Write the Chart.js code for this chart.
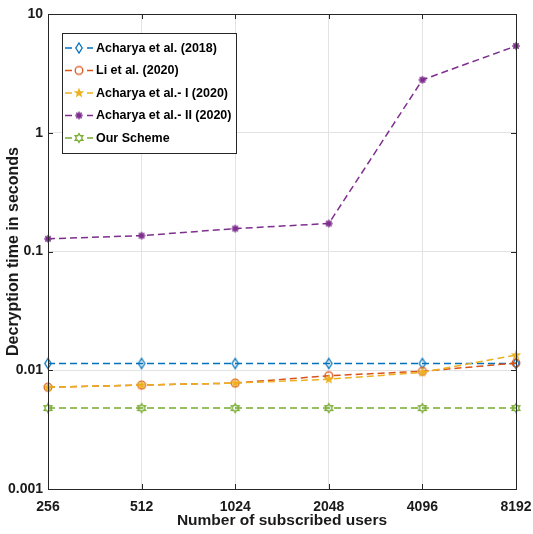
<!DOCTYPE html>
<html>
<head>
<meta charset="utf-8">
<script src="https://cdn.jsdelivr.net/npm/chart.js@4.4.1/dist/chart.umd.min.js"></script>
<style>
html,body{margin:0;padding:0;background:#fff;}
#wrap{width:533px;height:534px;position:relative;}
</style>
</head>
<body>
<div id="wrap"><canvas id="c" width="533" height="534"></canvas></div>
<script>
const categories = ['256','512','1024','2048','4096','8192'];
const acharya2018 = [0.0114, 0.0114, 0.0114, 0.0114, 0.0114, 0.0114];
const li2020 = [0.0072, 0.0075, 0.0078, 0.0090, 0.0098, 0.0115];
const acharyaI2020 = [0.0072, 0.0075, 0.0078, 0.0084, 0.0096, 0.0134];
const acharyaII2020 = [0.128, 0.136, 0.156, 0.172, 2.79, 5.38];
const ourScheme = [0.0048, 0.0048, 0.0048, 0.0048, 0.0048, 0.0048];
const seriesNames = ['Acharya et al. (2018)', 'Li et al. (2020)', 'Acharya et al.- I (2020)', 'Acharya et al.- II (2020)', 'Our Scheme'];
const yTicks = [0.001, 0.01, 0.1, 1, 10];

const colors = ['#0072BD', '#D95319', '#EDB120', '#7E2F8E', '#77AC30'];
const FONT = '"Liberation Sans", Arial, Helvetica, sans-serif';

function makeMarker(kind, color) {
  const s = 14, c = document.createElement('canvas');
  c.width = s; c.height = s;
  const g = c.getContext('2d');
  const m = s / 2;
  g.strokeStyle = color; g.fillStyle = color; g.lineWidth = 1.3;
  g.beginPath();
  if (kind === 'diamond') {
    g.moveTo(m, m - 5); g.lineTo(m + 3.2, m); g.lineTo(m, m + 5); g.lineTo(m - 3.2, m); g.closePath();
    g.stroke();
  } else if (kind === 'circle') {
    g.arc(m, m, 3.8, 0, Math.PI * 2); g.stroke();
  } else if (kind === 'pentagram') {
    for (let i = 0; i < 10; i++) {
      const r = i % 2 === 0 ? 5.5 : 2.3;
      const a = -Math.PI / 2 + i * Math.PI / 5;
      const x = m + r * Math.cos(a), y = m + r * Math.sin(a);
      if (i === 0) g.moveTo(x, y); else g.lineTo(x, y);
    }
    g.closePath(); g.fill();
  } else if (kind === 'asterisk') {
    g.lineWidth = 1.6;
    for (let i = 0; i < 4; i++) {
      const a = i * Math.PI / 4;
      g.moveTo(m - 3.8 * Math.cos(a), m - 3.8 * Math.sin(a));
      g.lineTo(m + 3.8 * Math.cos(a), m + 3.8 * Math.sin(a));
    }
    g.stroke();
  } else if (kind === 'hexagram') {
    for (let i = 0; i < 12; i++) {
      const r = i % 2 === 0 ? 4.5 : 2.6;
      const a = -Math.PI / 2 + i * Math.PI / 6;
      const x = m + r * Math.cos(a), y = m + r * Math.sin(a);
      if (i === 0) g.moveTo(x, y); else g.lineTo(x, y);
    }
    g.closePath(); g.stroke();
  }
  return c;
}
const markerKinds = ['diamond', 'circle', 'pentagram', 'asterisk', 'hexagram'];
const markers = markerKinds.map((k, i) => makeMarker(k, colors[i]));
const allData = [acharya2018, li2020, acharyaI2020, acharyaII2020, ourScheme];

const datasets = allData.map((d, i) => ({
  label: seriesNames[i],
  data: d,
  borderColor: colors[i],
  backgroundColor: colors[i],
  borderWidth: 1.5,
  borderDash: [7, 4],
  pointStyle: markers[i],
  pointRadius: 5,
  tension: 0,
  fill: false,
  order: 5 - i
}));

const boxPlugin = {
  id: 'boxPlugin',
  afterDraw(chart) {
    const ctx = chart.ctx, a = chart.chartArea;
    ctx.save();
    ctx.strokeStyle = '#262626'; ctx.lineWidth = 1;
    ctx.strokeRect(Math.round(a.left) + 0.5, Math.round(a.top) + 0.5, Math.round(a.right - a.left), Math.round(a.bottom - a.top));
    const xs = chart.scales.x, ys = chart.scales.y;
    ctx.beginPath();
    categories.forEach((c, i) => {
      const x = Math.round(xs.getPixelForValue(i)) + 0.5;
      ctx.moveTo(x, a.bottom); ctx.lineTo(x, a.bottom - 5);
      ctx.moveTo(x, a.top); ctx.lineTo(x, a.top + 5);
    });
    yTicks.forEach(v => {
      const y = Math.round(ys.getPixelForValue(v)) + 0.5;
      ctx.moveTo(a.left, y); ctx.lineTo(a.left + 5, y);
      ctx.moveTo(a.right, y); ctx.lineTo(a.right - 5, y);
    });
    ctx.stroke();
    // legend
    const lx = a.left + 14, ly = a.top + 19, lw = 174, lh = 120;
    ctx.fillStyle = '#fff';
    ctx.fillRect(lx, ly, lw, lh);
    ctx.strokeStyle = '#262626';
    ctx.strokeRect(lx + 0.5, ly + 0.5, lw, lh);
    ctx.font = 'bold 12.5px ' + FONT;
    ctx.textBaseline = 'middle';
    seriesNames.forEach((n, i) => {
      const y = ly + 15 + i * 22.5;
      ctx.strokeStyle = colors[i]; ctx.lineWidth = 1.5;
      ctx.setLineDash([7, 4]);
      ctx.beginPath(); ctx.moveTo(lx + 3, y); ctx.lineTo(lx + 31, y); ctx.stroke();
      ctx.setLineDash([]);
      ctx.fillStyle = '#fff';
      ctx.fillRect(lx + 10, y - 6, 14, 12);
      ctx.drawImage(markers[i], lx + 17 - 7, y - 7);
      ctx.fillStyle = '#000';
      ctx.fillText(n, lx + 34, y + 0.5);
    });
    ctx.restore();
  }
};

new Chart(document.getElementById('c'), {
  type: 'line',
  data: { labels: categories, datasets },
  options: {
    responsive: false,
    animation: false,
    devicePixelRatio: 1,
    layout: { padding: { top: 14, right: 17, left: 0, bottom: 0 } },
    plugins: { legend: { display: false }, tooltip: { enabled: false } },
    scales: {
      x: {
        type: 'category',
        offset: false,
        grid: { color: '#e3e3e3', drawTicks: false, lineWidth: 1 },
        border: { color: '#262626' },
        ticks: { color: '#1a1a1a', font: { family: FONT, size: 14, weight: 'bold' }, padding: 10, maxRotation: 0, autoSkip: false },
        title: { display: true, text: 'Number of subscribed users', color: '#1a1a1a', font: { family: FONT, size: 15.5, weight: 'bold' }, padding: { top: 0, bottom: 4 } },
        afterFit(s) { s.height = 45; s.paddingRight = 0; s.paddingLeft = 0; }
      },
      y: {
        type: 'logarithmic',
        min: 0.001,
        max: 10,
        afterBuildTicks(s) { s.ticks = yTicks.map(v => ({ value: v })); },
        grid: { color: '#e3e3e3', drawTicks: false },
        border: { color: '#262626' },
        ticks: { color: '#1a1a1a', font: { family: FONT, size: 14, weight: 'bold' }, padding: 5, callback: v => String(v) },
        title: { display: true, text: 'Decryption time in seconds', color: '#1a1a1a', font: { family: FONT, size: 16, weight: 'bold' }, padding: { top: 4, bottom: 0 } },
        afterFit(s) { s.width = 48; s.paddingTop = 0; s.paddingBottom = 0; }
      }
    }
  },
  plugins: [boxPlugin]
});
</script>
</body>
</html>
